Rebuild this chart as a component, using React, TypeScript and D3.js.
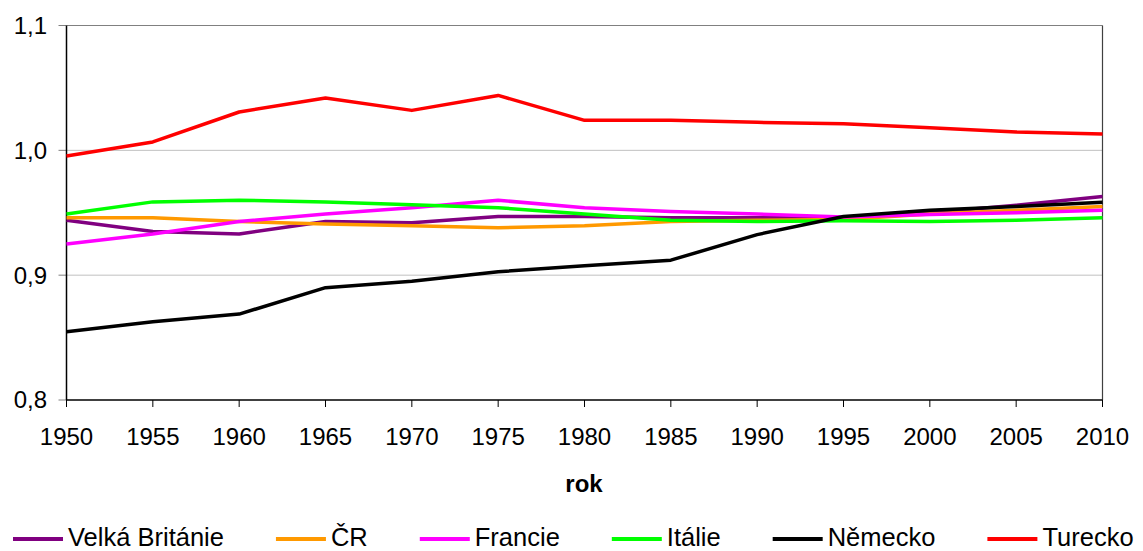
import React, { useEffect, useRef } from "react";
import * as d3 from "d3";

const years = [1950, 1955, 1960, 1965, 1970, 1975, 1980, 1985, 1990, 1995, 2000, 2005, 2010];
const yTicks = [0.8, 0.9, 1.0, 1.1];

const velkaBritanie = [0.944, 0.935, 0.933, 0.943, 0.942, 0.947, 0.947, 0.946, 0.946, 0.946, 0.950, 0.956, 0.963];
const cr = [0.946, 0.946, 0.943, 0.941, 0.9395, 0.938, 0.9395, 0.943, 0.944, 0.9445, 0.949, 0.952, 0.955];
const francie = [0.925, 0.933, 0.943, 0.949, 0.954, 0.960, 0.954, 0.951, 0.949, 0.9465, 0.9485, 0.950, 0.952];
const italie = [0.949, 0.9587, 0.960, 0.9587, 0.9565, 0.954, 0.949, 0.944, 0.943, 0.9435, 0.943, 0.944, 0.946];
const nemecko = [0.8547, 0.8627, 0.8688, 0.890, 0.8952, 0.9027, 0.9075, 0.912, 0.9325, 0.947, 0.952, 0.955, 0.9584];
const turecko = [0.9955, 1.0067, 1.0307, 1.042, 1.032, 1.044, 1.024, 1.024, 1.0224, 1.0213, 1.018, 1.0147, 1.013];

const seriesNames = ["Velká Británie", "ČR", "Francie", "Itálie", "Německo", "Turecko"];
const seriesValues = [velkaBritanie, cr, francie, italie, nemecko, turecko];
const seriesColors = ["#800080", "#FF9900", "#FF00FF", "#00FF00", "#000000", "#FF0000"];

const W = 1143;
const H = 551;
const FONT = "'Liberation Sans', Arial, sans-serif";

export default function App() {
  const ref = useRef<SVGSVGElement | null>(null);

  useEffect(() => {
    const svg = d3.select(ref.current);
    svg.selectAll("*").remove();

    const left = 66.5, right = 1102.5, top = 25.5, bottom = 400;
    const x = d3.scaleLinear().domain([1950, 2010]).range([left, right]);
    const y = d3.scaleLinear().domain([0.8, 1.1]).range([bottom, top]);

    const g = svg.append("g");

    // gridlines
    g.selectAll("line.grid")
      .data(yTicks.filter((t) => t > 0.8 && t < 1.1))
      .enter()
      .append("line")
      .attr("x1", left)
      .attr("x2", right)
      .attr("y1", (d) => y(d))
      .attr("y2", (d) => y(d))
      .attr("stroke", "#c0c0c0")
      .attr("stroke-width", 1);

    // top & right border
    g.append("line").attr("x1", left).attr("x2", right).attr("y1", top).attr("y2", top)
      .attr("stroke", "#808080").attr("stroke-width", 1.2);
    g.append("line").attr("x1", right).attr("x2", right).attr("y1", top).attr("y2", bottom)
      .attr("stroke", "#404040").attr("stroke-width", 1.2);

    // y ticks & labels
    yTicks.forEach((t) => {
      g.append("line").attr("x1", left - 8).attr("x2", left).attr("y1", y(t)).attr("y2", y(t))
        .attr("stroke", "#808080").attr("stroke-width", 1);
      g.append("text")
        .attr("x", 47)
        .attr("y", y(t))
        .attr("dy", "0.35em")
        .attr("text-anchor", "end")
        .attr("font-family", FONT)
        .attr("font-size", 24)
        .attr("fill", "#000")
        .text(d3.format(".1f")(t).replace(".", ","));
    });

    // x ticks & labels
    years.forEach((yr) => {
      g.append("line").attr("x1", x(yr)).attr("x2", x(yr)).attr("y1", bottom).attr("y2", bottom + 7)
        .attr("stroke", "#000").attr("stroke-width", 1);
      g.append("text")
        .attr("x", x(yr))
        .attr("y", 445)
        .attr("text-anchor", "middle")
        .attr("font-family", FONT)
        .attr("font-size", 24)
        .attr("fill", "#000")
        .text(String(yr));
    });

    // axes lines
    g.append("line").attr("x1", left).attr("x2", left).attr("y1", top).attr("y2", bottom)
      .attr("stroke", "#000").attr("stroke-width", 1.5);
    g.append("line").attr("x1", left).attr("x2", right).attr("y1", bottom).attr("y2", bottom)
      .attr("stroke", "#000").attr("stroke-width", 1.5);

    // axis title
    g.append("text")
      .attr("x", 584)
      .attr("y", 492)
      .attr("text-anchor", "middle")
      .attr("font-family", FONT)
      .attr("font-size", 24)
      .attr("font-weight", "bold")
      .attr("fill", "#000")
      .text("rok");

    // lines
    const line = d3.line<number>()
      .x((_, i) => x(years[i]))
      .y((d) => y(d));

    seriesValues.forEach((vals, i) => {
      g.append("path")
        .datum(vals)
        .attr("d", line)
        .attr("fill", "none")
        .attr("stroke", seriesColors[i])
        .attr("stroke-width", 3.5)
        .attr("stroke-linejoin", "round");
    });

    // legend
    let lx = 13;
    const ly = 539;
    seriesNames.forEach((name, i) => {
      g.append("line")
        .attr("x1", lx).attr("x2", lx + 50).attr("y1", ly).attr("y2", ly)
        .attr("stroke", seriesColors[i]).attr("stroke-width", 4);
      const t = g.append("text")
        .attr("x", lx + 55)
        .attr("y", 546)
        .attr("font-family", FONT)
        .attr("font-size", 25.5)
        .attr("fill", "#000")
        .text(name);
      const w = (t.node() as SVGTextElement).getComputedTextLength();
      lx = lx + 55 + w + 52;
    });
  }, []);

  return (
    <svg ref={ref} width={W} height={H} style={{ position: "absolute", left: 0, top: 0, display: "block" }} />
  );
}
